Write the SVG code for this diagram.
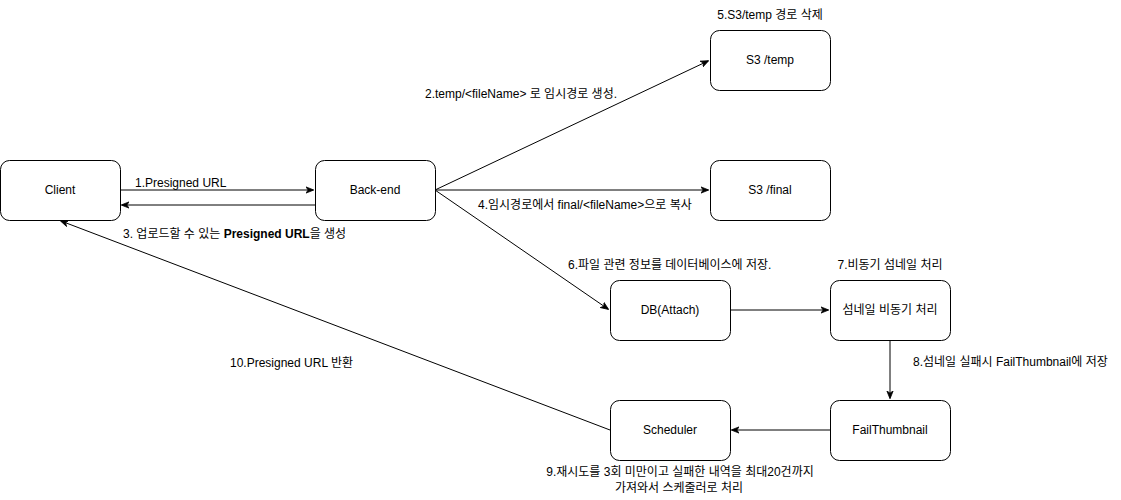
<svg xmlns="http://www.w3.org/2000/svg" width="1121" height="500" viewBox="0 0 1121 500">
<style>
.node rect{fill:#fff;stroke:#000;stroke-width:1}
text{font-family:"Liberation Sans","Noto Sans CJK KR",sans-serif;font-size:12px;fill:#000}
.c{text-anchor:middle}
.edge{stroke:#000;stroke-width:1;fill:none;marker-end:url(#arr)}
</style>
<defs>
<marker id="arr" viewBox="0 0 10 10" refX="9" refY="5" markerWidth="8" markerHeight="8" orient="auto" markerUnits="userSpaceOnUse">
<path d="M0,1 L10,5 L0,9 L3,5 Z" fill="#000" stroke="#000" stroke-width="1"/>
</marker>
</defs>
<rect width="1121" height="500" fill="#fff"/>
<g id="connectors">
<path class="edge" d="M120,190 L313,190"/>
<path class="edge" d="M315,205 L122,205"/>
<path class="edge" d="M435,190 L708,61"/>
<path class="edge" d="M435,190 L708,190"/>
<path class="edge" d="M435,190 L608,309"/>
<path class="edge" d="M730,310 L828,310"/>
<path class="edge" d="M890,340 L890,398"/>
<path class="edge" d="M830,430 L732,430"/>
<path class="edge" d="M610,430 L61,221"/>
<text x="135" y="187">1.Presigned URL</text>
<text x="123" y="238">3. 업로드할 수 있는 <tspan font-weight="bold">Presigned URL</tspan>을 생성</text>
<text x="425" y="98">2.temp/&lt;fileName&gt; 로 임시경로 생성.</text>
<text x="478" y="209">4.임시경로에서 final/&lt;fileName&gt;으로 복사</text>
<text x="568" y="269">6.파일 관련 정보를 데이터베이스에 저장.</text>
<text x="770" y="19" class="c">5.S3/temp 경로 삭제</text>
<text x="890" y="269" class="c">7.비동기 섬네일 처리</text>
<text x="913" y="366">8.섬네일 실패시 FailThumbnail에 저장</text>
<text x="230" y="367">10.Presigned URL 반환</text>
<text x="680" y="476" class="c">9.재시도를 3회 미만이고 실패한 내역을 최대20건까지</text>
<text x="679" y="492" class="c">가져와서 스케줄러로 처리</text>
</g>
<g id="client" class="node"><rect x="0.5" y="160.5" width="120" height="60" rx="9"/><text x="60" y="194" class="c">Client</text></g>
<g id="backend" class="node"><rect x="315.5" y="160.5" width="120" height="60" rx="9"/><text x="375" y="194" class="c">Back-end</text></g>
<g id="s3temp" class="node"><rect x="710.5" y="30.5" width="120" height="60" rx="9"/><text x="770" y="64" class="c">S3 /temp</text></g>
<g id="s3final" class="node"><rect x="710.5" y="160.5" width="120" height="60" rx="9"/><text x="770" y="194" class="c">S3 /final</text></g>
<g id="db" class="node"><rect x="610.5" y="280.5" width="120" height="60" rx="9"/><text x="670" y="314" class="c">DB(Attach)</text></g>
<g id="thumb" class="node"><rect x="830.5" y="280.5" width="120" height="60" rx="9"/><text x="890" y="314" class="c">섬네일 비동기 처리</text></g>
<g id="fail" class="node"><rect x="830.5" y="400.5" width="120" height="60" rx="9"/><text x="890" y="434" class="c">FailThumbnail</text></g>
<g id="scheduler" class="node"><rect x="610.5" y="400.5" width="120" height="60" rx="9"/><text x="670" y="434" class="c">Scheduler</text></g>
</svg>
